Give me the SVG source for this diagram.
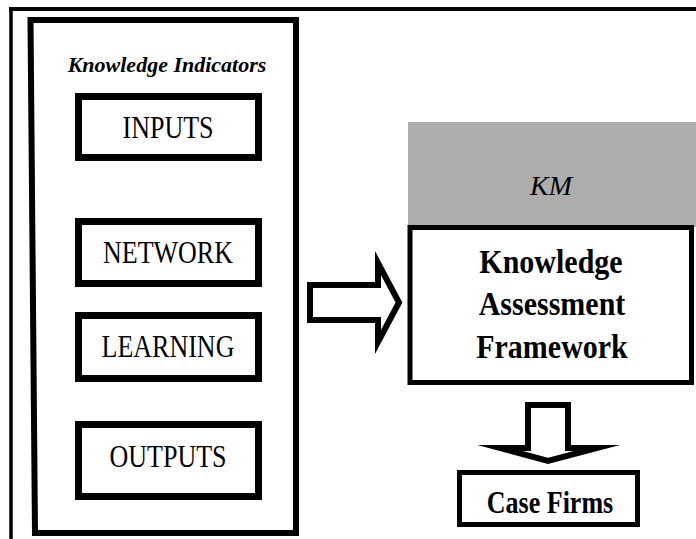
<svg xmlns="http://www.w3.org/2000/svg" width="696" height="539" viewBox="0 0 696 539">
  <style>
    .frame { fill: none; stroke: #000; }
    .item rect { fill: #fff; stroke: #000; stroke-width: 7; }
    .serif { font-family: "Liberation Serif", "Times New Roman", serif; fill: #000; text-anchor: middle; }
    .label { font-size: 26px; }
    .title { font-size: 22px; font-weight: bold; font-style: italic; }
    .km { font-size: 28px; font-style: italic; }
    .bold30 { font-size: 30px; font-weight: bold; }
    .bold26 { font-size: 26px; font-weight: bold; }
    .block { fill: #fff; stroke: #000; stroke-width: 6; stroke-linejoin: miter; stroke-miterlimit: 10; }
  </style>

  <rect width="696" height="539" fill="#fff"/>

  <!-- outer page frame (top and left rule) -->
  <g id="page-frame" class="frame">
    <line x1="9" y1="9" x2="696" y2="9" stroke-width="4"/>
    <line x1="11" y1="7" x2="11" y2="539" stroke-width="3.5"/>
  </g>

  <!-- indicator panel -->
  <g id="indicators">
    <polygon points="30.5,20 296,20 296,533 35,533" fill="#fff" stroke="#000" stroke-width="6"/>
    <text class="serif title" x="167" y="72">Knowledge Indicators</text>
  </g>

  <g id="inputs" class="item">
    <rect x="78.5" y="96.5" width="180" height="61"/>
    <text class="serif label" transform="translate(168,138) scale(1,1.22)">INPUTS</text>
  </g>
  <g id="network" class="item">
    <rect x="78.5" y="221.5" width="180" height="62"/>
    <text class="serif label" transform="translate(168,263) scale(1,1.2)">NETWORK</text>
  </g>
  <g id="learning" class="item">
    <rect x="78.5" y="315.5" width="180" height="63"/>
    <text class="serif label" transform="translate(168,357) scale(1,1.2)">LEARNING</text>
  </g>
  <g id="outputs" class="item">
    <rect x="78.5" y="424.5" width="180" height="72"/>
    <text class="serif label" transform="translate(168,467) scale(1,1.2)">OUTPUTS</text>
  </g>

  <!-- KM header band -->
  <g id="km">
    <rect x="408" y="122" width="288" height="105" fill="#adadad"/>
    <text class="serif km" x="551" y="195">KM</text>
  </g>

  <!-- framework box -->
  <g id="framework">
    <rect x="410" y="227.5" width="281.5" height="155" fill="#fff" stroke="#000" stroke-width="5"/>
    <text class="serif bold30" transform="translate(551,273) scale(1,1.12)">Knowledge</text>
    <text class="serif bold30" transform="translate(552,315) scale(1,1.12)">Assessment</text>
    <text class="serif bold30" transform="translate(552,358) scale(1,1.12)">Framework</text>
  </g>

  <!-- case firms box -->
  <g id="case-firms">
    <rect x="459.5" y="472.5" width="178" height="52" fill="#fff" stroke="#000" stroke-width="5"/>
    <text class="serif bold26" transform="translate(550,513) scale(1,1.2)">Case Firms</text>
  </g>

  <!-- block arrows -->
  <g id="connectors">
    <polygon class="block" points="310,285 378,285 378,263 399,302.5 378,342 378,320 310,320"/>
    <polygon class="block" points="528,405 568,405 568,448 597,448 548,461 500,448 528,448"/>
  </g>
</svg>
